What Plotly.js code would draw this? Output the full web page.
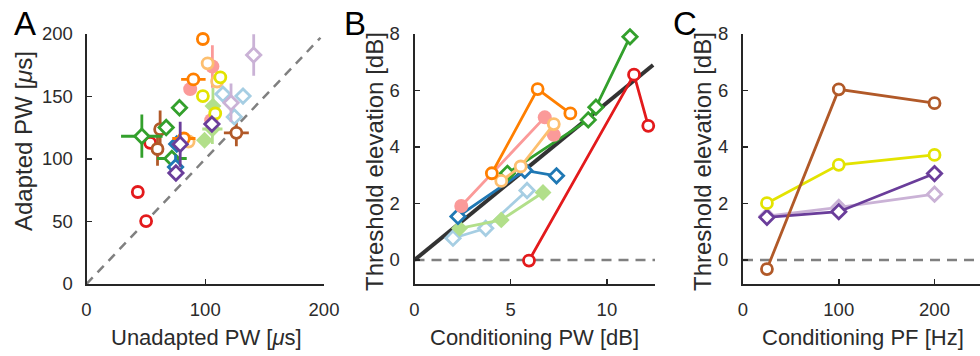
<!DOCTYPE html>
<html>
<head>
<meta charset="utf-8">
<script src="https://cdn.plot.ly/plotly-3.0.1.min.js"></script>
<style>html,body{margin:0;padding:0;background:#fff;}#chart{width:980px;height:356px;}</style>
</head>
<body>
<div id="chart"></div>
<script>
// ---------- Panel A: adapted vs unadapted PW (µs) ----------
const aOrangeX = [98, 90, 82], aOrangeY = [196, 163.7, 116.4], aOrangeXErr = [0, 10.3, 9.8], aOrangeYErr = [0, 0, 0];
const aLtOrangeX = [102, 110, 86], aLtOrangeY = [176.5, 162, 114];
const aPinkX = [87.3, 106, 105], aPinkY = [155.9, 174, 131], aPinkYErr = [0, 17, 0];
const aYellowX = [112.7, 98, 108.4], aYellowY = [165.3, 150.3, 136.4];
const aGreenX = [78.3, 67.1, 46.6, 71.9], aGreenY = [141, 125.2, 118.2, 100.4], aGreenXErr = [0, 0, 17.5, 12.5], aGreenYErr = [0, 0, 17.3, 0];
const aLtGreenX = [99.4, 106.5, 106], aLtGreenY = [115, 142.3, 124], aLtGreenXErr = [0, 0, 8.5], aLtGreenYErr = [0, 14.7, 12];
const aBlueX = [76, 75], aBlueY = [112, 93.6], aBlueYErr = [0, 10];
const aLtBlueX = [114.9, 131.8, 124.5], aLtBlueY = [151.9, 150.3, 133.7];
const aLtPurpleX = [140.8, 121.7], aLtPurpleY = [183.2, 144.9], aLtPurpleYErr = [16.7, 15.4];
const aPurpleX = [105.6, 78.9, 75.3], aPurpleY = [127.9, 111.8, 88.8], aPurpleYErr = [0, 18, 0];
const aBrownX = [62, 59.8, 126.2], aBrownY = [123.8, 108, 120.9], aBrownXErr = [0, 0, 10.5], aBrownYErr = [15, 13.5, 10.7];
const aRedX = [43.2, 50.2, 53.6], aRedY = [73.6, 50.3, 112.9];
const aIdentity = [0, 197];

// ---------- Panel B: threshold elevation vs conditioning PW (dB) ----------
const bOrangeX = [4.02, 6.4, 8.1], bOrangeY = [3.07, 6.05, 5.19];
const bPinkX = [2.43, 6.77, 7.24], bPinkY = [1.91, 5.05, 4.43];
const bLtOrangeX = [4.51, 5.52, 7.24], bLtOrangeY = [2.80, 3.31, 4.81];
const bGreenX = [4.83, 9.03, 9.43, 11.2], bGreenY = [3.07, 4.96, 5.41, 7.9];
const bBlueX = [2.26, 5.73, 7.38], bBlueY = [1.54, 3.17, 2.98];
const bLtBlueX = [2.0, 3.7, 5.85], bLtBlueY = [0.77, 1.12, 2.46];
const bLtGreenX = [2.34, 4.51, 6.68], bLtGreenY = [1.12, 1.42, 2.39];
const bRedX = [5.95, 11.41, 12.15], bRedY = [-0.02, 6.56, 4.75];
const bFitX = [0, 12.4], bFitY = [0, 6.9];
const bZeroX = [0, 12.5], bZeroY = [0, 0];

// ---------- Panel C: threshold elevation vs conditioning PF (Hz) ----------
const cPF = [25, 100, 200];
const cBrownY = [-0.32, 6.04, 5.55];
const cYellowY = [2.01, 3.37, 3.72];
const cPurpleY = [1.51, 1.71, 3.06];
const cLtPurpleY = [1.55, 1.86, 2.33];
const cZeroX = [0, 250], cZeroY = [0, 0];

// tick labels
const aTicks = [0, 100, 200], aYTicks = [0, 50, 100, 150, 200];
const bTicks = [0, 5, 10], dbTicks = [0, 2, 4, 6, 8];
const cTicks = [0, 100, 200];

const COL = {
  orange: '#ff7f00', ltorange: '#fdbf6f', pink: '#fb9a99', red: '#e31a1c',
  green: '#33a02c', ltgreen: '#b2df8a', blue: '#1f78b4', ltblue: '#a6cee3',
  purple: '#6a3d9a', ltpurple: '#cab2d6', brown: '#b15928', yellow: '#e3e300'
};
const LW = 2.8;

function openMk(sym, col, size) {
  return {symbol: sym, size: size, color: '#ffffff', line: {color: col, width: LW}};
}
function fillMk(sym, col, size) {
  return {symbol: sym, size: size, color: col, line: {color: col, width: 0}};
}
function err(arr, col) {
  return {type: 'data', array: arr, visible: true, width: 0, thickness: LW, color: col};
}
function ptsA(x, y, mk, col, xe, ye) {
  const t = {x: x, y: y, mode: 'markers', marker: mk, xaxis: 'x', yaxis: 'y', hoverinfo: 'x+y',
             showlegend: false, cliponaxis: false};
  if (xe) t.error_x = err(xe, col);
  if (ye) t.error_y = err(ye, col);
  return t;
}
function lineT(x, y, mk, col, ax) {
  return {x: x, y: y, mode: 'lines+markers', line: {color: col, width: LW}, marker: mk,
          xaxis: 'x' + ax, yaxis: 'y' + ax, showlegend: false, cliponaxis: false};
}

const CS = 11, DS = 11;
const traces = [
  // Panel A
  {x: aIdentity, y: aIdentity, mode: 'lines', line: {color: '#808080', width: 2.5, dash: '9px,7px'}, xaxis: 'x', yaxis: 'y', showlegend: false, hoverinfo: 'skip'},
  ptsA(aRedX, aRedY, openMk('circle', COL.red, CS), COL.red),
  ptsA(aBrownX, aBrownY, openMk('circle', COL.brown, CS), COL.brown, aBrownXErr, aBrownYErr),
  ptsA(aGreenX, aGreenY, openMk('diamond', COL.green, DS), COL.green, aGreenXErr, aGreenYErr),
  ptsA(aBlueX, aBlueY, openMk('diamond', COL.blue, DS), COL.blue, null, aBlueYErr),
  ptsA(aLtGreenX, aLtGreenY, fillMk('diamond', COL.ltgreen, DS + 2), COL.ltgreen, aLtGreenXErr, aLtGreenYErr),
  ptsA(aPinkX, aPinkY, fillMk('circle', COL.pink, CS + 3), COL.pink, null, aPinkYErr),
  ptsA(aLtOrangeX, aLtOrangeY, openMk('circle', COL.ltorange, CS), COL.ltorange),
  ptsA(aOrangeX, aOrangeY, openMk('circle', COL.orange, CS), COL.orange, aOrangeXErr, aOrangeYErr),
  ptsA(aLtBlueX, aLtBlueY, openMk('diamond', COL.ltblue, DS), COL.ltblue),
  ptsA(aLtPurpleX, aLtPurpleY, openMk('diamond', COL.ltpurple, DS), COL.ltpurple, null, aLtPurpleYErr),
  ptsA(aYellowX, aYellowY, openMk('circle', COL.yellow, CS), COL.yellow),
  ptsA(aPurpleX, aPurpleY, openMk('diamond', COL.purple, DS), COL.purple, null, aPurpleYErr),

  // Panel B
  {x: bZeroX, y: bZeroY, mode: 'lines', line: {color: '#808080', width: 2.5, dash: '10px,7px'}, xaxis: 'x2', yaxis: 'y2', showlegend: false, hoverinfo: 'skip'},
  {x: bFitX, y: bFitY, mode: 'lines', line: {color: '#333333', width: 4}, xaxis: 'x2', yaxis: 'y2', showlegend: false},
  lineT(bLtBlueX, bLtBlueY, openMk('diamond', COL.ltblue, DS), COL.ltblue, 2),
  lineT(bLtGreenX, bLtGreenY, fillMk('diamond', COL.ltgreen, DS + 2), COL.ltgreen, 2),
  lineT(bBlueX, bBlueY, openMk('diamond', COL.blue, DS), COL.blue, 2),
  lineT(bGreenX, bGreenY, openMk('diamond', COL.green, DS), COL.green, 2),
  lineT(bPinkX, bPinkY, fillMk('circle', COL.pink, CS + 3), COL.pink, 2),
  lineT(bLtOrangeX, bLtOrangeY, openMk('circle', COL.ltorange, CS), COL.ltorange, 2),
  lineT(bOrangeX, bOrangeY, openMk('circle', COL.orange, CS), COL.orange, 2),
  lineT(bRedX, bRedY, openMk('circle', COL.red, CS), COL.red, 2),

  // Panel C
  {x: cZeroX, y: cZeroY, mode: 'lines', line: {color: '#808080', width: 2.5, dash: '10px,7px'}, xaxis: 'x3', yaxis: 'y3', showlegend: false, hoverinfo: 'skip'},
  lineT(cPF, cLtPurpleY, openMk('diamond', COL.ltpurple, DS), COL.ltpurple, 3),
  lineT(cPF, cPurpleY, openMk('diamond', COL.purple, DS), COL.purple, 3),
  lineT(cPF, cYellowY, openMk('circle', COL.yellow, CS), COL.yellow, 3),
  lineT(cPF, cBrownY, openMk('circle', COL.brown, CS), COL.brown, 3)
];

const FONT = 'Liberation Sans, Arial, Helvetica, sans-serif';
const TXT = '#2b2b2b';
function axis(domain, range, ticks, anchor, standoff) {
  return {
    domain: domain, range: range, tickvals: ticks, ticktext: ticks.map(String),
    anchor: anchor, showline: true, linecolor: '#262626', linewidth: 2,
    ticks: 'inside', ticklen: 5, tickwidth: 1.5, tickcolor: '#262626',
    showgrid: false, zeroline: false, fixedrange: true,
    tickfont: {family: FONT, size: 18.5, color: TXT}, ticklabelstandoff: standoff
  };
}
const yDom = [1 - 284 / 356, 1 - 34 / 356];

function ann(text, x, y, size, angle) {
  return {text: text, x: x / 980, y: 1 - y / 356, xref: 'paper', yref: 'paper',
          xanchor: 'center', yanchor: 'middle', showarrow: false, textangle: angle || 0,
          font: {family: FONT, size: size, color: angle === undefined && size > 30 ? '#000' : TXT}};
}

const layout = {
  width: 980, height: 356,
  margin: {l: 0, r: 0, t: 0, b: 0},
  paper_bgcolor: '#ffffff', plot_bgcolor: 'rgba(0,0,0,0)',
  showlegend: false,
  xaxis: axis([86.5 / 980, 324 / 980], [0, 200], aTicks, 'y', 8),
  yaxis: axis(yDom, [0, 200], aYTicks, 'x', 8),
  xaxis2: axis([414.5 / 980, 655 / 980], [0, 12.5], bTicks, 'y2', 8),
  yaxis2: axis(yDom, [-0.85, 8], dbTicks, 'x2', 9),
  xaxis3: axis([743 / 980, 1], [0, 247.5], cTicks, 'y3', 8),
  yaxis3: axis(yDom, [-0.85, 8], dbTicks, 'x3', 9),
  annotations: [
    ann('A', 25, 24, 33), ann('B', 355, 24, 33), ann('C', 685, 24, 33),
    ann('Unadapted PW [<i>μ</i>s]', 206.5, 337, 22, 0),
    ann('Conditioning PW [dB]', 534, 337, 22, 0),
    ann('Conditioning PF [Hz]', 862.5, 337, 22, 0),
    ann('Adapted PW [<i>μ</i>s]', 23, 141, 24, -90),
    ann('Threshold elevation [dB]', 374, 162, 24, -90),
    ann('Threshold elevation [dB]', 702, 162, 24, -90)
  ]
};

Plotly.newPlot('chart', traces, layout, {staticPlot: true, displayModeBar: false});
</script>
</body>
</html>
